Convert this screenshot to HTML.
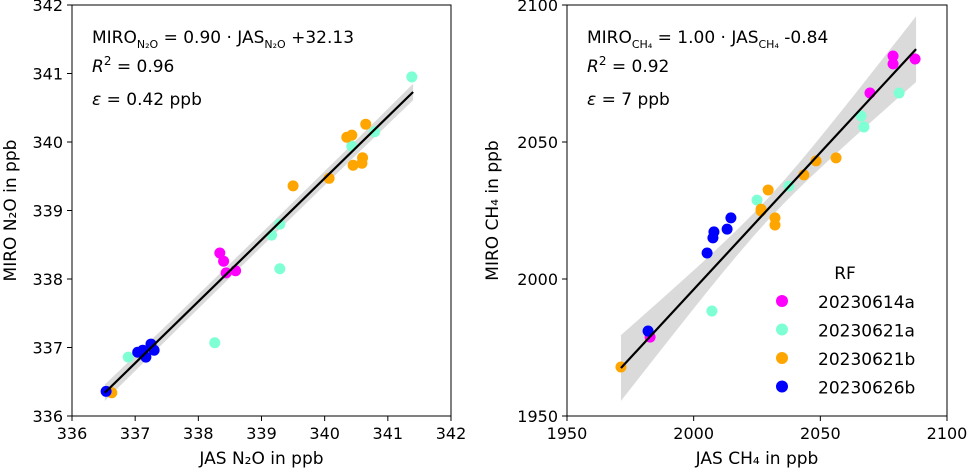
<!DOCTYPE html>
<html><head><meta charset="utf-8"><style>
body{margin:0;background:#fff;}
svg{display:block;font-family:"DejaVu Sans","Liberation Sans",sans-serif;}
</style></head><body>
<svg id="chart" width="970" height="469"></svg>
<script>
const ns="http://www.w3.org/2000/svg";
const svg=document.getElementById('chart');
const colors={"20230614a":"#ff00ff","20230621a":"#7fffd4","20230621b":"#ffa500","20230626b":"#0000ff"};
const flights=["20230614a","20230621a","20230621b","20230626b"];
// N2O data
const n2oFlight=["20230614a","20230614a","20230614a","20230614a","20230621a","20230621a","20230621a","20230621a","20230621a","20230621a","20230621a","20230621a","20230621b","20230621b","20230621b","20230621b","20230621b","20230621b","20230621b","20230621b","20230621b","20230626b","20230626b","20230626b","20230626b","20230626b","20230626b"];
const n2oJas=[338.34,338.40,338.44,338.59,341.38,340.79,340.43,339.29,339.16,339.29,338.26,336.89,340.65,340.35,340.43,340.60,340.59,340.45,340.07,339.50,336.63,336.54,337.04,337.12,337.17,337.25,337.30];
const n2oMiro=[338.38,338.26,338.09,338.12,340.95,340.15,339.94,338.80,338.64,338.15,337.07,336.86,340.26,340.07,340.10,339.77,339.69,339.66,339.47,339.36,336.34,336.36,336.93,336.96,336.86,337.05,336.96];
const n2oFitX=[336.52,341.40];
const n2oFitY=[336.34,340.73];
const n2oBand=[0.12,0.10];
// CH4 data
const ch4Flight=["20230614a","20230614a","20230614a","20230614a","20230614a","20230621a","20230621a","20230621a","20230621a","20230621a","20230621a","20230621b","20230621b","20230621b","20230621b","20230621b","20230621b","20230621b","20230621b","20230621b","20230626b","20230626b","20230626b","20230626b","20230626b","20230626b"];
const ch4Jas=[2078.7,2078.7,2087.4,2069.6,1982.8,2081.1,2066.1,2067.2,2037.6,2025.0,2007.2,2029.4,2026.6,2026.6,2032.1,2032.1,2043.5,2048.3,2056.2,1971.3,2014.7,2013.2,2008.0,2007.6,2005.3,1982.0];
const ch4Miro=[2081.4,2078.5,2080.3,2067.9,1978.8,2067.9,2059.5,2055.5,2033.9,2028.8,1988.3,2032.5,2025.5,2024.8,2022.3,2019.7,2038.0,2043.1,2044.2,1967.9,2022.3,2018.2,2017.2,2015.0,2009.5,1981.0];
const ch4FitX=[1971.3,2087.8];
const ch4FitY=[1967.5,2083.9];
const ch4Band=[12,4];
const n2oTicks=[336,337,338,339,340,341,342];
const ch4Ticks=[1950,2000,2050,2100];

function el(tag,attrs,parent){const e=document.createElementNS(ns,tag);for(const k in attrs)e.setAttribute(k,attrs[k]);(parent||svg).appendChild(e);return e;}
function txt(s,attrs,parent){const t=el('text',attrs,parent);t.textContent=s;return t;}

function panel(p){
  const g=el('g',{});
  
  
  const sx=v=>p.x0+(v-p.min)/(p.max-p.min)*(p.x1-p.x0);
  const sy=v=>p.y1-(v-p.min)/(p.max-p.min)*(p.y1-p.y0);
  const [xa,xb]=p.fitX,[ya,yb]=p.fitY,[ba,bm]=p.band;
  const N=20;const up=[],dn=[];
  for(let i=0;i<=N;i++){const t=i/N;const x=xa+(xb-xa)*t;const y=ya+(yb-ya)*t;const w=Math.sqrt(bm*bm+(ba*ba-bm*bm)*Math.pow(2*t-1,2));up.push(sx(x)+','+sy(y+w));dn.unshift(sx(x)+','+sy(y-w));}
  const band=el('polygon',{points:up.concat(dn).join(' '),fill:'#d3d3d3',opacity:'0.85'},g);
  
  
  for(let i=0;i<p.jas.length;i++){
    const c=el('circle',{cx:sx(p.jas[i]),cy:sy(p.miro[i]),r:5.5,fill:colors[p.flight[i]]},g);
    
    
  }
  const ln=el('line',{x1:sx(xa),y1:sy(ya),x2:sx(xb),y2:sy(yb),stroke:'#000','stroke-width':2.2},g);
  
  
  el('rect',{x:p.x0,y:p.y0,width:p.x1-p.x0,height:p.y1-p.y0,fill:'none',stroke:'#000','stroke-width':1},g);
  p.ticks.forEach(v=>{
    el('line',{x1:sx(v),y1:p.y1,x2:sx(v),y2:p.y1+5,stroke:'#000'},g);
    const xt=txt(String(v),{x:sx(v),y:p.y1+23,'font-size':16,'text-anchor':'middle'},g);
    
    
    el('line',{x1:p.x0-5,y1:sy(v),x2:p.x0,y2:sy(v),stroke:'#000'},g);
    const yt=txt(String(v),{x:p.x0-9,y:sy(v)+6,'font-size':16,'text-anchor':'end'},g);
    
    
  });
  const xl=txt(p.xlabel,{x:(p.x0+p.x1)/2,y:464,'font-size':17,'text-anchor':'middle'},g);
  
  
  const cy=(p.y0+p.y1)/2;
  const yl=txt(p.ylabel,{x:p.ylx,y:cy,'font-size':17,'text-anchor':'middle',transform:`rotate(-90 ${p.ylx} ${cy})`},g);
  
  
  const an=el('g',{'font-size':17},g);
  
  
  an.innerHTML=p.annot;
  return g;
}
panel({name:'n2o-panel',x0:72,x1:451,y0:5,y1:416,min:336,max:342,ticks:n2oTicks,jas:n2oJas,miro:n2oMiro,flight:n2oFlight,fitX:n2oFitX,fitY:n2oFitY,band:n2oBand,xlabel:'JAS N₂O in ppb',ylabel:'MIRO N₂O in ppb',ylx:16,
annot:'<text x="92" y="43">MIRO<tspan font-size="11" dy="5">N₂O</tspan><tspan dy="-5"> = 0.90 · JAS</tspan><tspan font-size="11" dy="5">N₂O</tspan><tspan dy="-5"> +32.13</tspan></text><text x="92" y="72"><tspan font-style="italic">R</tspan><tspan font-size="12" dy="-7">2</tspan><tspan dy="7"> = 0.96</tspan></text><text x="92" y="105"><tspan font-style="italic">ε</tspan> = 0.42 ppb</text>'});
panel({name:'ch4-panel',x0:567,x1:947,y0:5,y1:416,min:1950,max:2100,ticks:ch4Ticks,jas:ch4Jas,miro:ch4Miro,flight:ch4Flight,fitX:ch4FitX,fitY:ch4FitY,band:ch4Band,xlabel:'JAS CH₄ in ppb',ylabel:'MIRO CH₄ in ppb',ylx:498,
annot:'<text x="587" y="43">MIRO<tspan font-size="11" dy="5">CH₄</tspan><tspan dy="-5"> = 1.00 · JAS</tspan><tspan font-size="11" dy="5">CH₄</tspan><tspan dy="-5"> -0.84</tspan></text><text x="587" y="72"><tspan font-style="italic">R</tspan><tspan font-size="12" dy="-7">2</tspan><tspan dy="7"> = 0.92</tspan></text><text x="587" y="105"><tspan font-style="italic">ε</tspan> = 7 ppb</text>'});
const lg=el('g',{});


txt('RF',{x:845,y:279,'font-size':17,'text-anchor':'middle'},lg);
flights.forEach((f,i)=>{
  const y=301+i*28.5;
  const e=el('g',{},lg);
  
  
  el('circle',{cx:782,cy:y,r:6,fill:colors[f]},e);
  txt(f,{x:818,y:y+7,'font-size':17},e);
});
</script>
</body></html>
